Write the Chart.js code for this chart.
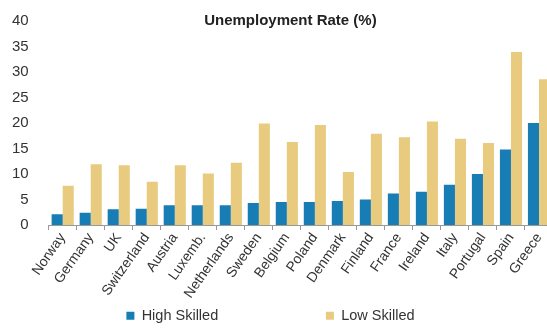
<!DOCTYPE html>
<html>
<head>
<meta charset="utf-8">
<script src="https://cdn.jsdelivr.net/npm/chart.js@4"></script>
<style>
  html, body { margin: 0; padding: 0; overflow: hidden; background: #fff; }
  #wrap { width: 553px; height: 333px; }
</style>
</head>
<body>
<div id="wrap"><canvas id="chart" width="553" height="333"></canvas></div>
<script>
Chart.defaults.font.family = "'Liberation Sans', Arial, sans-serif";
Chart.defaults.color = "#333";

// values
const countries = ["Norway","Germany","UK","Switzerland","Austria","Luxemb.","Netherlands","Sweden","Belgium",
  "Poland","Denmark","Finland","France","Ireland","Italy","Portugal","Spain","Greece"];
const highSkilled = [2.1, 2.4, 3.1, 3.2, 3.9, 3.9, 3.9, 4.3, 4.5, 4.5, 4.7, 5.0, 6.2, 6.5, 7.9, 10.0, 14.8, 20.0];
const lowSkilled = [7.7, 11.9, 11.7, 8.5, 11.7, 10.1, 12.2, 19.9, 16.3, 19.6, 10.4, 17.9, 17.2, 20.3, 16.9, 16.1, 33.9, 28.6];
const seriesNames = ["High Skilled", "Low Skilled"];
const yTicks = [0, 40, 5]; // min, max, step

const blue = "#177db4";
const gold = "#e9cb80";

new Chart(document.getElementById("chart"), {
  type: "bar",
  data: {
    labels: countries,
    datasets: [
      { label: seriesNames[0], data: highSkilled, backgroundColor: blue,
        categoryPercentage: 0.79, barPercentage: 1.0 },
      { label: seriesNames[1], data: lowSkilled, backgroundColor: gold,
        categoryPercentage: 0.79, barPercentage: 1.0 }
    ]
  },
  options: {
    responsive: false,
    animation: false,
    layout: { padding: { left: 0, right: 0, top: 0, bottom: 0 } },
    plugins: {
      tooltip: { enabled: false },
      title: {
        display: true,
        text: "Unemployment Rate (%)     ",
        fullSize: false,
        color: "#222",
        font: { size: 15, weight: "bold" },
        padding: { top: 8, bottom: -9 }
      },
      legend: {
        position: "bottom",
        labels: {
          boxWidth: 8,
          boxHeight: 8,
          padding: 7,
          color: "#333",
          font: { size: 14.5 },
          generateLabels(chart) {
            // wide gap between the two legend entries
            const items = Chart.defaults.plugins.legend.labels.generateLabels(chart);
            items[0].text = items[0].text + " ".repeat(25);
            items[1].text = items[1].text + " ".repeat(3);
            items.forEach(it => { it.lineWidth = 0; });
            return items;
          }
        }
      }
    },
    scales: {
      x: {
        grid: { display: true, drawOnChartArea: false, color: "#999", tickLength: 5, offset: true },
        border: { display: true, color: "#999" },
        ticks: { minRotation: 55, maxRotation: 55, padding: 0, color: "#333", font: { size: 14 } }
      },
      y: {
        min: yTicks[0],
        max: yTicks[1],
        grid: { display: false },
        border: { display: false },
        ticks: { stepSize: yTicks[2], padding: 12, color: "#333", font: { size: 15 } }
      }
    }
  }
});
</script>
</body>
</html>
